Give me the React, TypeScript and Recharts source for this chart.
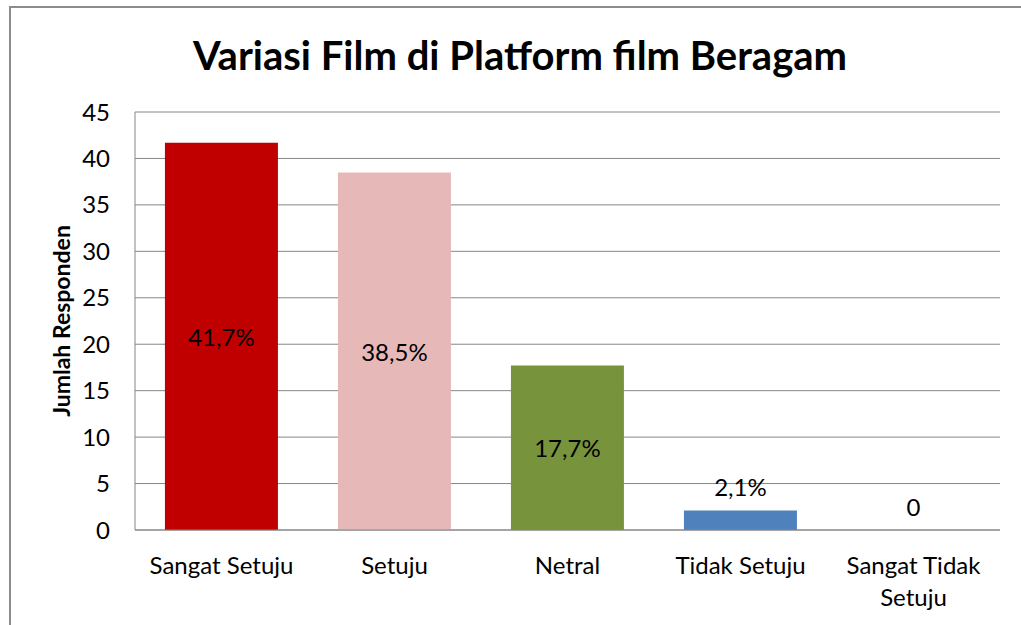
import { BarChart, Bar, XAxis, YAxis, CartesianGrid, Cell, LabelList, Label } from 'recharts';

const categories = ['Sangat Setuju', 'Setuju', 'Netral', 'Tidak Setuju', 'Sangat Tidak Setuju'];
const values = [41.7, 38.5, 17.7, 2.1, 0];
const barColors = ['#C00000', '#E6B9B8', '#77933C', '#4F81BD', 'none'];
const yTicks = [0, 5, 10, 15, 20, 25, 30, 35, 40, 45];

const data = categories.map((name, i) => ({ name, value: values[i] }));

const FONT = 'Lato, "Open Sans", sans-serif';

function fmt(v: number) {
  if (v === 0) return '0';
  return String(v).replace('.', ',') + '%';
}

function XTick(props: any) {
  const { x, y, payload } = props;
  const words = String(payload.value).split(' ');
  const lines: string[] = [];
  let cur = '';
  words.forEach((w) => {
    const next = cur ? cur + ' ' + w : w;
    if (next.length > 14 && cur) {
      lines.push(cur);
      cur = w;
    } else {
      cur = next;
    }
  });
  if (cur) lines.push(cur);
  return (
    <text x={x} y={y} textAnchor="middle" fill="#000" fontSize={24} fontFamily={FONT}>
      {lines.map((l, i) => (
        <tspan key={i} x={x} dy={i === 0 ? 36 : 32}>
          {l}
        </tspan>
      ))}
    </text>
  );
}

function BarLabel(props: any) {
  const { x, y, width, height, value } = props;
  const cx = x + width / 2;
  const inside = value >= 10;
  const cy = inside ? y + height / 2 : y + height - (value === 0 ? 0 : height) - 24;
  return (
    <text x={cx} y={cy} textAnchor="middle" dominantBaseline="central" fill="#000" fontSize={24} fontFamily={FONT}>
      {fmt(value)}
    </text>
  );
}

export default function App() {
  return (
    <div style={{ position: 'relative', width: 1021, height: 625, background: '#fff', overflow: 'hidden' }}>
      <style>{`body{margin:0;overflow:hidden}`}</style>
      <div
        style={{
          position: 'absolute',
          left: 9,
          top: 6,
          width: 1040,
          height: 660,
          border: '2px solid #8c8c8c',
          boxSizing: 'border-box',
        }}
      />
      <div
        style={{
          position: 'absolute',
          left: 9,
          top: 28,
          width: 1022,
          textAlign: 'center',
          fontFamily: FONT,
          fontWeight: 700,
          fontSize: 40,
          color: '#000',
          lineHeight: '54px',
        }}
      >
        Variasi Film di Platform film Beragam
      </div>
      <div style={{ position: 'absolute', left: 0, top: 0 }}>
        <BarChart
          width={1021}
          height={625}
          data={data}
          margin={{ top: 112, right: 21, bottom: 0, left: 0 }}
          barCategoryGap="17.3%"
        >
          <CartesianGrid vertical={false} stroke="#868686" strokeWidth={1} />
          <XAxis
            dataKey="name"
            axisLine={{ stroke: '#868686' }}
            tickLine={false}
            tick={<XTick />}
            interval={0}
            height={95}
          />
          <YAxis
            width={135}
            domain={[0, 45]}
            ticks={yTicks}
            axisLine={{ stroke: '#868686' }}
            tickLine={false}
            tickSize={0}
            tickMargin={25}
            tick={{ fill: '#000', fontSize: 24, fontFamily: FONT }}
          >
            <Label
              content={(p: any) => {
                const vb = p.viewBox;
                const cy = vb.y + vb.height / 2;
                return (
                  <text
                    x={61}
                    y={cy}
                    transform={`rotate(-90, 61, ${cy})`}
                    textAnchor="middle"
                    dominantBaseline="central"
                    fill="#000"
                    fontSize={23}
                    fontWeight={700}
                    fontFamily={FONT}
                  >
                    Jumlah Responden
                  </text>
                );
              }}
            />
          </YAxis>
          <Bar dataKey="value" isAnimationActive={false} minPointSize={1}>
            {data.map((d, i) => (
              <Cell key={d.name} fill={barColors[i]} />
            ))}
            <LabelList dataKey="value" content={<BarLabel />} />
          </Bar>
        </BarChart>
      </div>
    </div>
  );
}
